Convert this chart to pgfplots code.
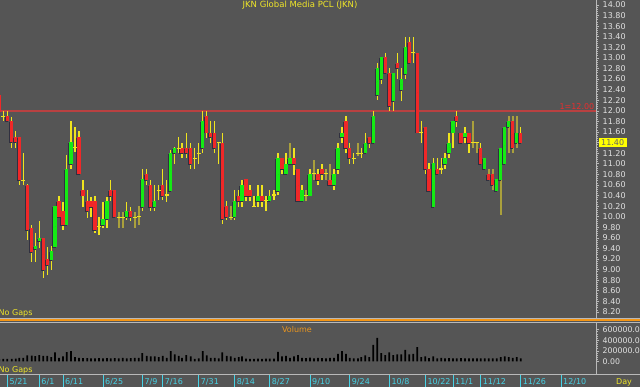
\documentclass[border=0pt]{standalone}
\usepackage{fontspec}
\setmainfont{DejaVu Sans}
\usepackage{pgfplots}
\usepackage{pgfplotstable}
\pgfplotsset{compat=1.18}
\definecolor{bg}{RGB}{85,85,85}
\definecolor{cgreen}{RGB}{20,235,20}
\definecolor{cred}{RGB}{240,40,40}
\definecolor{wickc}{RGB}{240,228,30}
\definecolor{olivew}{RGB}{170,160,60}
\definecolor{shadowc}{RGB}{48,48,64}
\definecolor{hlred}{RGB}{185,65,65}
\definecolor{lblred}{RGB}{235,45,45}
\definecolor{ttl}{RGB}{240,230,40}
\definecolor{volor}{RGB}{235,150,30}
\definecolor{sepor}{RGB}{245,150,20}
\definecolor{lbl}{RGB}{225,225,225}
\definecolor{axisgray}{RGB}{185,185,185}
\definecolor{datecyan}{RGB}{70,210,230}
\definecolor{boxyellow}{RGB}{255,255,0}
\newcommand\lblfont{\fontsize{8}{9.6}\selectfont}
% x = pixel position, o h l c = price, t: 1 up 2 down 3 doji, w: 1 = dim wick, v = volume (thousands)
\pgfplotstableread{
x     o     h     l     c     t w v
-0.7  12.30 12.32 11.95 11.98 2 0 45
3.3   11.90 12.00 11.80 11.90 3 0 50
7.3   11.90 12.00 11.80 11.80 2 0 50
11.7  11.81 11.89 11.30 11.41 2 0 50
15.7  11.50 11.62 11.30 11.41 2 0 55
19.3  11.51 11.51 10.60 10.69 2 0 70
23.3  10.69 11.20 10.60 10.69 3 0 70
27.3  10.60 10.62 9.56  9.75  2 0 115
31.7  9.79  9.84  9.15  9.34  2 0 110
35.3  9.39  9.69  9.15  9.45  1 0 100
39.3  9.54  9.91  9.40  9.59  1 0 120
43.3  9.59  9.59  8.85  9.00  2 0 105
47.3  9.20  9.43  8.90  9.09  2 0 105
51.3  9.18  9.44  9.00  9.35  1 0 82
55.0  9.43  10.21 9.43  10.21 1 0 170
59.0  10.30 10.40 9.97  9.99  2 0 69
63.0  10.11 10.28 9.75  9.84  2 0 95
66.7  9.84  11.16 9.84  10.90 1 0 175
71.0  10.99 11.81 10.91 11.41 1 0 195
75.0  11.31 11.70 11.23 11.31 3 0 82
79.0  11.51 11.62 10.80 10.80 2 0 69
83.0  10.50 10.69 10.19 10.40 2 0 65
87.3  10.30 10.50 9.98  10.10 2 0 62
91.0  10.30 10.38 10.00 10.19 2 0 60
95.0  10.30 10.39 9.69  9.74  2 0 58
99.0  9.81  9.99  9.66  9.81  3 0 65
103.0 9.84  10.28 9.79  9.95  1 0 60
107.0 9.95  10.38 9.79  10.30 1 0 65
110.7 10.50 10.69 10.30 10.39 2 0 57
114.7 10.50 10.50 9.99  9.99  2 0 65
118.7 9.99  10.09 9.79  9.99  3 1 60
122.7 9.99  10.09 9.79  9.99  3 1 69
126.7 10.00 10.28 9.94  10.11 1 0 60
130.7 10.10 10.19 9.91  10.00 2 0 65
134.7 9.99  10.09 9.79  9.99  3 1 69
138.7 10.00 10.20 9.84  10.00 3 1 69
142.3 10.19 10.90 10.10 10.71 1 0 160
146.7 10.81 10.90 10.60 10.69 2 0 107
150.7 10.60 10.69 10.10 10.19 2 0 95
154.7 10.19 10.60 10.10 10.30 1 0 95
158.7 10.50 10.60 10.32 10.50 3 0 82
162.7 10.60 10.90 10.32 10.39 2 0 107
166.7 10.41 10.69 10.28 10.41 3 0 69
170.7 10.49 11.26 10.49 11.20 1 0 195
174.7 11.20 11.32 10.99 11.30 1 0 132
178.7 11.29 11.50 11.20 11.29 3 0 107
182.0 11.30 11.39 11.10 11.20 2 0 69
186.3 11.30 11.59 11.10 11.20 2 0 120
190.7 11.30 11.39 10.90 10.99 2 0 95
194.7 11.10 11.29 10.91 11.10 3 0 50
198.7 11.20 11.39 10.99 11.20 3 0 60
202.7 11.29 12.00 11.20 11.80 1 0 195
206.7 11.90 12.00 11.49 11.59 2 0 113
210.7 11.59 11.80 11.39 11.50 2 0 69
214.7 11.59 11.80 11.20 11.29 2 0 69
218.7 11.40 11.40 10.99 11.40 3 0 60
222.3 11.40 11.59 9.86  9.95  2 0 170
226.7 10.20 10.30 9.94  9.99  2 0 107
230.7 9.99  10.20 9.94  9.99  3 1 95
234.7 9.99  10.50 9.94  10.30 1 0 69
238.7 10.40 10.50 10.19 10.30 2 0 82
242.0 10.30 10.69 10.19 10.60 1 0 95
246.0 10.71 10.71 10.30 10.39 2 0 55
250.0 10.50 10.60 10.30 10.39 2 0 50
254.0 10.20 10.39 10.19 10.20 3 0 50
258.0 10.30 10.60 10.19 10.40 1 0 55
262.0 10.40 10.60 10.19 10.30 2 0 50
266.0 10.30 10.39 10.10 10.30 3 0 55
269.7 10.30 10.50 10.28 10.40 1 0 55
274.0 10.41 10.50 10.32 10.41 3 0 52
278.0 10.49 11.20 10.41 11.10 1 0 183
282.0 11.10 11.10 10.81 10.90 2 0 95
286.0 10.81 11.20 10.81 10.99 1 0 107
290.0 10.99 11.40 10.99 11.10 1 1 69
294.0 11.10 11.29 10.79 10.99 2 0 95
298.0 10.90 10.90 10.29 10.29 2 0 120
302.0 10.29 10.60 10.29 10.50 1 0 69
306.0 10.40 10.50 10.29 10.40 3 1 65
310.0 10.40 10.90 10.40 10.81 1 0 75
314.0 10.81 11.07 10.69 10.81 3 1 60
318.0 10.81 10.90 10.60 10.69 2 0 69
322.0 10.90 10.99 10.69 10.81 2 0 65
326.0 10.81 10.90 10.69 10.81 3 1 60
330.0 10.69 10.99 10.60 10.60 2 1 69
334.0 10.60 10.90 10.50 10.81 1 0 69
338.0 10.90 11.40 10.81 11.30 1 0 145
342.0 11.50 11.70 11.40 11.59 1 0 195
346.0 11.80 11.90 11.20 11.29 2 0 145
349.7 11.29 11.40 10.99 11.10 2 0 69
353.7 11.10 11.20 10.99 11.10 3 0 57
358.0 11.20 11.40 11.15 11.20 3 1 57
361.3 11.20 11.29 11.10 11.20 3 0 82
365.3 11.20 11.59 11.20 11.40 1 0 113
369.3 11.50 11.50 11.30 11.40 2 0 82
373.3 11.40 12.00 11.40 11.90 1 0 315
377.3 12.30 12.91 12.21 12.80 1 0 447
381.3 12.60 13.01 12.51 13.01 1 0 157
385.3 13.01 13.10 12.71 12.71 2 0 120
389.3 12.71 12.80 12.00 12.09 2 0 170
393.3 12.19 12.71 12.00 12.71 1 0 120
397.3 12.90 13.10 12.60 12.80 2 0 132
401.3 12.39 12.80 12.19 12.60 1 0 132
405.3 12.70 13.40 12.60 13.20 1 0 220
409.3 13.30 13.40 12.90 12.90 2 0 132
413.3 13.10 13.40 12.90 13.10 3 0 145
417.3 13.10 13.10 11.59 11.59 2 0 271
421.3 11.59 11.80 11.40 11.59 3 0 82
425.3 11.70 11.70 10.81 10.90 2 0 95
429.0 10.90 11.01 10.49 10.49 2 0 65
433.3 10.19 11.10 10.19 11.01 1 0 95
437.3 10.90 11.10 10.81 10.81 2 0 60
441.3 10.90 11.10 10.81 10.90 3 0 69
445.0 10.99 11.20 10.90 11.10 1 0 60
449.0 11.20 11.59 11.10 11.40 1 0 65
453.0 11.59 11.80 11.29 11.80 1 0 60
456.7 11.90 12.00 11.70 11.80 2 0 60
461.0 11.59 11.59 11.40 11.40 2 0 65
465.0 11.50 11.70 11.40 11.59 1 0 60
469.0 11.59 11.59 11.20 11.40 2 0 60
473.0 11.40 11.80 11.29 11.40 3 1 57
477.0 11.40 11.40 11.20 11.40 3 1 57
480.7 11.30 11.40 10.99 10.99 2 0 60
484.7 10.90 11.10 10.90 11.10 1 0 57
488.7 10.81 10.90 10.69 10.69 2 1 57
492.7 10.81 10.90 10.50 10.60 2 1 57
496.7 10.49 10.71 10.49 10.71 1 0 60
500.7 10.69 11.30 10.03 11.30 1 1 82
504.7 10.99 11.70 10.99 11.70 1 0 95
508.7 11.70 11.90 11.20 11.80 1 1 82
512.7 11.80 11.90 11.20 11.29 2 1 69
516.7 11.40 11.90 11.29 11.59 1 1 82
520.7 11.59 11.70 11.40 11.40 2 0 60
}\candles
\pgfplotsset{
  nomarks/.style={only marks, mark=*, mark size=0pt, mark options={draw=none, fill=none}},
  candlebar/.style 2 args={nomarks,
    error bars/y dir=both, error bars/y explicit, error bars/error mark=none,
    error bars/error bar style={draw=#1, line width=#2, line cap=butt}},
}
\begin{document}
\begin{tikzpicture}
\useasboundingbox (0pt,0pt) rectangle (640pt,387pt);
\fill[bg] (0pt,0pt) rectangle (640pt,387pt);
\begin{scope}
\clip (0pt,0pt) rectangle (640pt,387pt);
% ---------------- price panel ----------------
\begin{axis}[
  at={(0pt,69pt)}, anchor=south west,
  scale only axis, width=596pt, height=318pt,
  xmin=0, xmax=596, ymin=8.086, ymax=14.094,
  axis line style={draw=none},
  xtick=\empty,
  ytick={8.2,8.4,8.6,8.8,9.0,9.2,9.4,9.6,9.8,10.0,10.2,10.4,10.6,10.8,11.0,11.2,11.4,11.6,11.8,12.0,12.2,12.4,12.6,12.8,13.0,13.2,13.4,13.6,13.8,14.0},
  minor y tick num=4,
  ytick pos=right, yticklabel pos=right,
  tick align=outside,
  major tick length=3pt, minor tick length=2pt,
  tick style={draw=axisgray, line width=0.6pt},
  /pgf/number format/assume math mode=true,
  yticklabel style={text=lbl, anchor=west, inner sep=0pt, xshift=3.5pt, font=\lblfont,
    /pgf/number format/.cd, fixed, fixed zerofill, precision=2},
]
\addplot[draw=hlred, line width=1.6pt, forget plot] coordinates {(-5,12) (600,12)};
% dim wicks
\addplot[candlebar={olivew}{2.2pt}, restrict expr to domain={\thisrow{w}}{0.5:1.5}]
  table[x=x, y expr={(\thisrow{h}+\thisrow{l})/2}, y error expr={(\thisrow{h}-\thisrow{l})/2}]{\candles};
% wicks
\addplot[candlebar={wickc}{1.2pt}, restrict expr to domain={\thisrow{w}}{-0.5:0.5}]
  table[x=x, y expr={(\thisrow{h}+\thisrow{l})/2}, y error expr={(\thisrow{h}-\thisrow{l})/2}]{\candles};
% body shadows
\addplot[candlebar={shadowc}{3.2pt}, restrict expr to domain={\thisrow{t}}{0.5:2.5}]
  table[x expr={\thisrow{x}-1.1}, y expr={(\thisrow{o}+\thisrow{c})/2-0.018}, y error expr={abs(\thisrow{c}-\thisrow{o})/2}]{\candles};
% up bodies
\addplot[candlebar={cgreen}{3.2pt}, restrict expr to domain={\thisrow{t}}{0.5:1.5}]
  table[x=x, y expr={(\thisrow{o}+\thisrow{c})/2}, y error expr={abs(\thisrow{c}-\thisrow{o})/2}]{\candles};
% down bodies
\addplot[candlebar={cred}{3.2pt}, restrict expr to domain={\thisrow{t}}{1.5:2.5}]
  table[x=x, y expr={(\thisrow{o}+\thisrow{c})/2}, y error expr={abs(\thisrow{c}-\thisrow{o})/2}]{\candles};
% doji crosses
\addplot[nomarks,
  restrict expr to domain={\thisrow{t}}{2.5:3.5},
  error bars/x dir=both, error bars/x fixed=2, error bars/error mark=none,
  error bars/error bar style={draw=wickc, line width=1.1pt, line cap=butt}]
  table[x=x, y=c]{\candles};
\end{axis}
% ---------------- volume panel ----------------
\begin{axis}[
  at={(0pt,13pt)}, anchor=south west,
  scale only axis, width=596pt, height=51pt,
  xmin=0, xmax=596, ymin=-236, ymax=726,
  axis line style={draw=none},
  xtick=\empty,
  ytick={0,200,400,600},
  yticklabels={0.00,200000.0,400000.0,600000.0},
  minor y tick num=4,
  ytick pos=right, yticklabel pos=right,
  tick align=outside,
  major tick length=3pt, minor tick length=2pt,
  tick style={draw=axisgray, line width=0.6pt},
  yticklabel style={text=lbl, anchor=west, inner sep=0pt, xshift=3.5pt, font=\fontsize{7.8}{9}\selectfont},
]
\addplot[ybar, bar width=1.7pt, fill=black, draw=none] table[x=x, y=v]{\candles};
\end{axis}
% ---------------- date strip ----------------
\begin{axis}[
  at={(0pt,0pt)}, anchor=south west,
  scale only axis, width=596pt, height=13pt,
  xmin=0, xmax=596, ymin=0, ymax=1,
  axis line style={draw=none},
  ytick=\empty,
  xtick={7.3,39.3,63,103,142.3,162.7,198.7,234.7,269.7,310,349.7,389.3,425.3,453,480.7,520.7,561},
  xticklabels={5/21,6/1,6/11,6/25,7/9,7/16,7/31,8/14,8/27,9/10,9/24,10/8,10/22,11/1,11/12,11/26,12/10},
  xtick pos=bottom, xticklabel pos=bottom,
  tick align=inside, major tick length=13pt,
  tick style={draw=datecyan, line width=0.8pt},
  xticklabel style={anchor=west, inner sep=0pt, xshift=2pt, yshift=5.5pt, text=datecyan, font=\lblfont},
]
\addplot[draw=none, mark=none] coordinates {(0,0.5) (596,0.5)};
\end{axis}
% ---------------- frame and labels ----------------
\draw[axisgray, line width=0.9pt] (0pt,69pt) -- (640pt,69pt);
\draw[sepor, line width=1.5pt] (0pt,66.8pt) -- (640pt,66.8pt);
\draw[axisgray, line width=0.9pt] (0pt,64.5pt) -- (640pt,64.5pt);
\draw[axisgray, line width=0.9pt] (0pt,13pt) -- (640pt,13pt);
\draw[axisgray, line width=0.6pt] (596.3pt,69pt) -- (596.3pt,387pt);
\draw[axisgray, line width=0.6pt] (596.3pt,13pt) -- (596.3pt,64.5pt);
\node[font=\fontsize{8.5}{10}\selectfont, text=ttl] at (300pt,382pt) {JKN Global Media PCL (JKN)};
\node[font=\lblfont, text=lblred, anchor=base east, inner sep=0pt] at (594.5pt,277.5pt) {1=12.00};
\node[font=\lblfont, text=black!60, fill=boxyellow, anchor=west, inner xsep=2.5pt, inner ysep=1.8pt] at (598.5pt,244.4pt) {11.40};
\node[font=\lblfont, text=ttl, anchor=west, inner sep=0pt] at (-1.5pt,73.3pt) {No Gaps};
\node[font=\lblfont, text=ttl, anchor=west, inner sep=0pt] at (-1.5pt,17pt) {No Gaps};
\node[font=\lblfont, text=volor] at (297pt,57pt) {Volume};
\node[font=\lblfont, text=ttl] at (624pt,5pt) {Day};
\end{scope}
\end{tikzpicture}
\end{document}
